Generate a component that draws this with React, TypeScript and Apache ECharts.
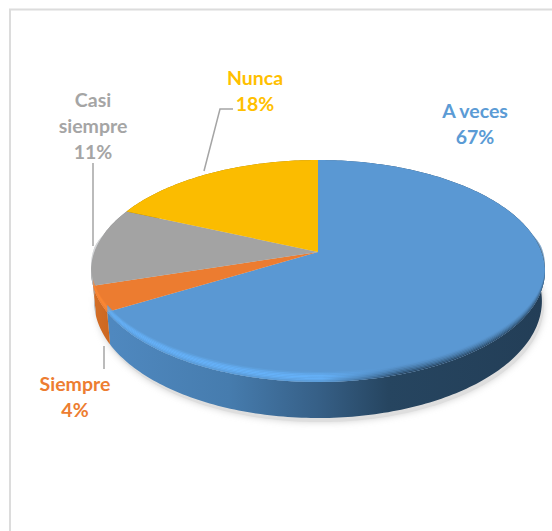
import React, { useEffect, useRef } from "react";
import * as echarts from "echarts";

const categories = ["A veces", "Siempre", "Casi siempre", "Nunca"];
const values = [66.5, 3.7, 11.4, 18.4];
const labelTexts = ["A veces", "Siempre", "Casi\nsiempre", "Nunca"];
const topColors = ["#5a98d3", "#ec7c30", "#a3a3a3", "#fbbc00"];
const labelColors = ["#5b9bd5", "#ed7d31", "#a5a5a5", "#ffc000"];
const highlightColors = ["#65b1f9", "#ff8a35", "#c4c8cc", "#ffce3a"];
const rightDark = ["#24405a", "#b05a20", "#777777", "#a87c00"];
const sideStops = [
  [[0, "#4f88bf"], [0.27, "#467cae"], [0.48, "#365f86"], [0.64, "#264560"], [1, "#233e57"]],
  [[0, "#d56f27"], [1, "#c9651f"]],
  [[0, "#a9adb0"], [1, "#8d8d8d"]],
  [[0, "#9a7400"], [1, "#9a7400"]],
];
const labelSpots = [
  { x: 475, y: 123, line: [] as number[][] },
  { x: 75, y: 396, line: [[104, 346], [104, 369]] },
  { x: 93, y: 125, line: [[93, 163], [93, 246]] },
  { x: 255, y: 90, line: [[233, 109], [220, 109], [204, 171]] },
];

const CX = 318;
const TOP_Y = 252;
const R = 223.6;
const S = 107.7;
const P = 0.171;
const BOTTOM_Y = 281;
const BOTTOM_S = 113.6;
const BOTTOM_R = 220.6;

const total = values.reduce((a, b) => a + b, 0);
const startAngle = (i: number) => (values.slice(0, i).reduce((a, b) => a + b, 0) / total) * 360;

const topPoint = (deg: number) => {
  const t = (deg * Math.PI) / 180;
  const u = Math.sin(t);
  const v = Math.cos(t);
  const w = 1 + P * v;
  return [CX + (R * u) / w, TOP_Y - (S * v) / w];
};
const bottomPoint = (deg: number) => {
  const t = (deg * Math.PI) / 180;
  const u = Math.sin(t);
  const v = Math.cos(t);
  const w = 1 + P * v;
  return [CX + (BOTTOM_R * u) / w, BOTTOM_Y - (BOTTOM_S * v) / w];
};
const arc = (a: number, b: number, fn: (d: number) => number[]) => {
  const n = Math.max(2, Math.ceil(Math.abs(b - a)));
  const out: number[][] = [];
  for (let k = 0; k <= n; k++) out.push(fn(a + ((b - a) * k) / n));
  return out;
};
const hex = (c: string) => [1, 3, 5].map((k) => parseInt(c.slice(k, k + 2), 16));
const mix = (a: string, b: string, t: number) => {
  const x = hex(a);
  const y = hex(b);
  return `rgb(${x.map((q, i) => Math.round(q + (y[i] - q) * t)).join(",")})`;
};
const rimShift = (deg: number, amount: number) => {
  const c = Math.cos((deg * Math.PI) / 180);
  if (c > 0) return amount * 0.45 * Math.max(0, 1 - c * 6);
  return amount * (0.45 + 0.55 * -c);
};

const seriesData = categories.map((name, i) => ({ name, value: values[i] }));

export default function App() {
  const ref = useRef<HTMLDivElement>(null);
  useEffect(() => {
    document.body.style.margin = "0";
    const chart = echarts.init(ref.current!, null, { renderer: "svg" });
    const sideItem = (params: any) => {
      const i = params.dataIndex;
      const a = startAngle(i);
      const b = startAngle(i + 1);
      const pts = [...arc(a, b, topPoint), ...arc(b, a, bottomPoint)];
      return {
        type: "polygon",
        shape: { points: pts },
        style: {
          fill: new echarts.graphic.LinearGradient(
            i === 0 ? 112 : 91, 0, i === 0 ? 544 : 115, 0,
            sideStops[i].map(([offset, color]) => ({ offset, color })) as any,
            true
          ),
        },
      };
    };
    const topItem = (params: any) => {
      const i = params.dataIndex;
      const pts = [[CX, TOP_Y], ...arc(startAngle(i), startAngle(i + 1), topPoint)];
      return { type: "polygon", shape: { points: pts }, style: { fill: topColors[i] } };
    };
    const BANDS = 7;
    const rimItem = (params: any) => {
      const i = params.dataIndex;
      const a = startAngle(i);
      const b = startAngle(i + 1);
      const children: any[] = [];
      for (let k = 0; k < BANDS; k++) {
        const t0 = k / BANDS;
        const t1 = (k + 1) / BANDS;
        const inner = (d: number) => {
          const p = topPoint(d);
          return [p[0], p[1] - rimShift(d, 10) * (1 - t0)];
        };
        const outer = (d: number) => {
          const p = topPoint(d);
          return [p[0], p[1] - rimShift(d, 10) * (1 - t1)];
        };
        const hump = Math.sin(((k + 0.5) / BANDS) * Math.PI);
        const left = mix(topColors[i], highlightColors[i], hump);
        const right = mix(topColors[i], rightDark[i], ((k + 0.5) / BANDS) ** 1.5);
        children.push({
          type: "polygon",
          shape: { points: [...arc(a, b, inner), ...arc(b, a, outer)] },
          style: {
            fill: new echarts.graphic.LinearGradient(
              100, 0, 544, 0,
              [
                { offset: 0, color: left },
                { offset: 0.5, color: left },
                { offset: 0.68, color: right },
                { offset: 1, color: right },
              ],
              true
            ),
          },
        });
      }
      return { type: "group", children };
    };
    const shadowItem = (params: any) => {
      if (params.dataIndex !== 0) return { type: "group", children: [] };
      const pts = arc(0, 360, (d) => {
        const p = bottomPoint(d);
        return [p[0] + 2, p[1] + 4];
      });
      return {
        type: "polygon",
        shape: { points: pts },
        style: { fill: "#dedede", shadowBlur: 7, shadowColor: "#d2d2d2" },
      };
    };
    const labelItem = (params: any) => {
      const i = params.dataIndex;
      const spot = labelSpots[i];
      const children: any[] = [];
      if (spot.line.length)
        children.push({
          type: "polyline",
          shape: { points: spot.line },
          style: { stroke: "#a5a5a5", lineWidth: 1.5, fill: "none" },
        });
      children.push({
        type: "text",
        x: spot.x,
        y: spot.y,
        style: {
          text: `${labelTexts[i]}\n${Math.round(values[i])}%`,
          fill: labelColors[i],
          font: "bold 19.5px Lato, sans-serif",
          lineHeight: 26,
          align: "center",
          verticalAlign: "middle",
        },
      });
      return { type: "group", children };
    };
    const custom = (name: string, renderItem: any) => ({
      type: "custom",
      name,
      coordinateSystem: "none",
      silent: true,
      clip: false,
      data: seriesData,
      renderItem,
    });
    chart.setOption({
      animation: false,
      backgroundColor: "#ffffff",
      graphic: [
        {
          type: "polyline",
          shape: { points: [[10, 560], [10, 9.5], [560, 9.5]] },
          style: { stroke: "#dcdcdc", lineWidth: 2, fill: "none" },
          z: -1,
        },
      ],
      series: [
        custom("shadow", shadowItem),
        custom("side", sideItem),
        custom("top", topItem),
        custom("rim", rimItem),
        custom("labels", labelItem),
      ],
    });
    return () => chart.dispose();
  }, []);
  return <div ref={ref} style={{ position: "absolute", left: 0, top: 0, width: 552, height: 531 }} />;
}
